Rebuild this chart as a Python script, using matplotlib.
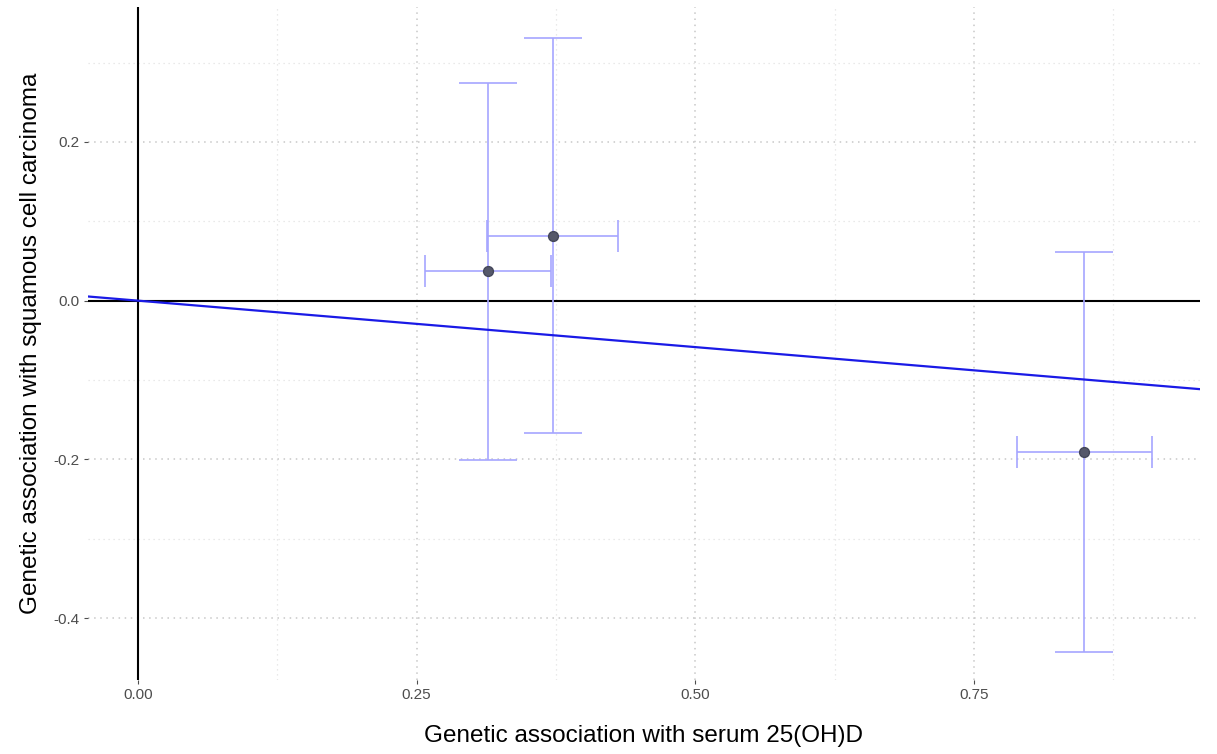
import matplotlib.pyplot as plt
from matplotlib.ticker import MultipleLocator

plt.rcParams['font.family'] = ['Liberation Sans', 'DejaVu Sans']

# genetic associations (beta) with exposure and outcome
bx = [0.314, 0.3725, 0.849]
bx_low = [0.2576, 0.3133, 0.789]
bx_high = [0.3707, 0.4309, 0.910]
by = [0.0378, 0.0819, -0.1903]
by_low = [-0.2004, -0.1664, -0.4423]
by_high = [0.2747, 0.3314, 0.0618]
slope = -0.117

fig = plt.figure(figsize=(12.17, 7.54), dpi=100)
ax = fig.add_axes([0.0723, 0.0981, 0.9137, 0.8926])

xlim = (-0.045, 0.953)
ylim = (-0.478, 0.370)

# grid
ax.xaxis.set_major_locator(MultipleLocator(0.25))
ax.xaxis.set_minor_locator(MultipleLocator(0.125))
ax.yaxis.set_major_locator(MultipleLocator(0.2))
ax.yaxis.set_minor_locator(MultipleLocator(0.1))
ax.grid(which='major', color='#c8c8c8', linestyle=(0, (1, 3)), linewidth=1.1)
ax.grid(which='minor', color='#e2e2e2', linestyle=(0, (1, 3)), linewidth=0.9)
ax.set_axisbelow(True)

ax.axhline(0, color='black', linewidth=1.5, zorder=2)
ax.axvline(0, color='black', linewidth=1.5, zorder=2)

# error bars
for i in range(len(bx)):
    ax.errorbar(bx[i], by[i],
                yerr=[[by[i] - by_low[i]], [by_high[i] - by[i]]],
                fmt='none', ecolor='#a5a5ff', elinewidth=1.2, capsize=21,
                capthick=1.2, zorder=3)
    ax.errorbar(bx[i], by[i],
                xerr=[[bx[i] - bx_low[i]], [bx_high[i] - bx[i]]],
                fmt='none', ecolor='#a5a5ff', elinewidth=1.2, capsize=11.5,
                capthick=1.2, zorder=3)

ax.scatter(bx, by, s=50, color='#55586a', edgecolor='#44475a', zorder=4)

# IVW line through origin
ax.plot(list(xlim), [slope * xlim[0], slope * xlim[1]], color='#1a1ae6',
        linewidth=1.6, zorder=3)

ax.set_xlim(*xlim)
ax.set_ylim(*ylim)

for s in ax.spines.values():
    s.set_visible(False)

ax.set_xticks([0, 0.25, 0.5, 0.75])
ax.set_xticklabels(['0.00', '0.25', '0.50', '0.75'])
ax.set_yticks([-0.4, -0.2, 0.0, 0.2])
ax.set_yticklabels(['-0.4', '-0.2', '0.0', '0.2'])
ax.tick_params(which='major', length=3, color='#4d4d4d', labelcolor='#4d4d4d',
               labelsize=11, pad=3)
ax.tick_params(which='minor', length=0)

ax.set_xlabel('Genetic association with serum 25(OH)D', fontsize=17.5, labelpad=16)
ax.set_ylabel('Genetic association with squamous cell carcinoma', fontsize=17.5,
              labelpad=8)

fig.savefig('out.png', dpi=100)
